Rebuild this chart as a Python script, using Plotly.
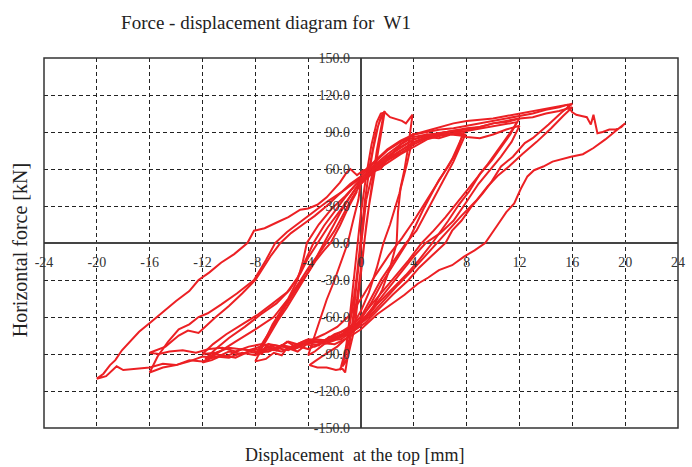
import plotly.graph_objects as go

# ---------------- data ----------------
x_tick_vals = [-24, -20, -16, -12, -8, -4, 0, 4, 8, 12, 16, 20, 24]
x_tick_text = ["-24", "-20", "-16", "-12", "-8", "-4", "0", "4", "8", "12", "16", "20", "24"]
y_tick_vals = [-150, -120, -90, -60, -30, 0, 30, 60, 90, 120, 150]
y_tick_text = ["-150.0", "-120.0", "-90.0", "-60.0", "-30.0", "0.0", "30.0", "60.0", "90.0", "120.0", "150.0"]

# initial small cycles (about +/-1.8 mm)
cycA_disp = [0, 0.2, 0.5, 0.9, 1.3, 1.6, 1.8, 1.7, 1.4, 1.0, 0.6, 0.3, 0.0, -0.3, -0.7, -1.1, -1.4, -1.6,
             -1.5, -1.2, -0.9, -0.6, -0.3, 0.0, 0.3, 0.7, 1.1, 1.5, 1.75, 1.6, 1.2, 0.8, 0.4, 0.1, -0.2,
             -0.5, -0.9, -1.2, -1.4, -1.2, -0.9, -0.6, -0.3, 0.0]
cycA_force = [0, 25, 50, 75, 95, 104, 107, 100, 80, 55, 30, 5, -20, -45, -70, -88, -98, -103,
              -100, -88, -70, -50, -25, 5, 35, 65, 88, 102, 106, 98, 75, 45, 15, -15, -45,
              -70, -88, -97, -100, -90, -65, -35, -5, 25]

# 4 mm cycles
cycB1_disp = [0.0, 0.4, 0.8, 1.2, 1.5, 1.8, 2.2, 2.7, 3.1, 3.4, 3.7, 3.9, 3.6, 3.3, 3.0, 2.8, 2.7, 2.2,
              1.6, 0.9, 0.0, -0.6, -1.2, -1.8, -2.4, -3.0, -3.5, -3.9, -3.3, -2.6, -1.9, -1.4, -1.2,
              -0.9, -0.6, -0.3, 0.0, 0.4]
cycB1_force = [25, 55, 80, 98, 105, 106, 102, 100, 99, 97, 101, 104, 80, 60, 45, 25, 0, -20,
               -38, -52, -64, -72, -78, -84, -88, -92, -96, -99, -101, -101, -103, -102, -105,
               -85, -60, -30, 0, 35]
cycB2_disp = [0.4, 0.9, 1.5, 2.0, 2.5, 3.0, 3.5, 4.0, 3.5, 2.9, 2.2, 1.7, 1.2, 0.6, 0.0, -0.6,
              -1.2, -2.0, -2.8, -3.5, -4.0, -3.6, -3.1, -2.6, -2.0, -1.5, -1.0, -0.6, -0.2, 0.0]
cycB2_force = [35, 58, 60, 68, 74, 80, 84, 89, 65, 40, 15, 0, -20, -40, -55, -66,
               -72, -79, -82, -88, -91, -78, -62, -46, -30, -15, 0, 18, 35, 50]

# 8 mm cycles
cycC1_disp = [0.0, 1.0, 2.0, 3.0, 4.0, 4.6, 5.0, 5.4, 5.8, 6.5, 7.2, 7.8, 7.6, 7.3, 6.6, 5.9, 4.7,
              3.6, 2.6, 1.6, 0.8, 0.0, -0.8, -1.6, -2.4, -3.2, -4.0, -4.8, -5.6, -6.0, -6.6, -7.2,
              -8.0, -7.5, -6.9, -6.3, -5.6, -5.0, -4.4, -3.8, -3.3, -2.8, -2.2, -1.5, -0.8, -0.3, 0.0]
cycC1_force = [52, 62, 70, 78, 84, 86, 88, 86, 89, 90, 91, 90, 85, 75, 62, 51, 27,
               2, -15, -32, -48, -62, -70, -77, -76, -83, -81, -88, -85, -91, -89, -94,
               -96, -85, -74, -63, -52, -42, -31, -20, -10, 0, 12, 26, 38, 46, 52]
cycC2_disp = [0.0, 1.0, 2.0, 3.0, 4.0, 5.0, 5.6, 6.4, 7.2, 7.9, 7.5, 7.0, 6.2, 5.2, 4.2, 3.4, 2.5,
              1.5, 0.6, 0.0, -1.0, -2.0, -3.0, -4.0, -5.0, -6.0, -7.0, -7.9, -7.4, -6.8, -6.1,
              -5.4, -4.7, -4.0, -3.4, -2.8, -2.3, -1.6, -1.0, -0.3]
cycC2_force = [50, 60, 67, 73, 80, 85, 87, 88, 89, 88, 78, 66, 50, 30, 10, 0, -14,
               -30, -48, -60, -70, -74, -81, -79, -86, -83, -88, -89, -80, -70, -58,
               -46, -34, -24, -14, -6, 0, 14, 28, 42]
cycC3_disp = [-0.3, 0.6, 1.4, 2.3, 3.2, 4.1, 5.0, 5.9, 6.8, 7.7, 7.4, 6.9, 6.1, 5.0, 4.0, 3.1,
              2.1, 1.1, 0.2, -0.8, -1.8, -2.8, -3.8, -4.8, -5.6, -6.4, -7.2, -7.8, -7.3, -6.7,
              -6.0, -5.3, -4.6, -3.9, -3.2, -2.6, -2.0, -1.4, -0.7, 0.0]
cycC3_force = [44, 56, 62, 70, 76, 82, 86, 85, 88, 87, 80, 68, 54, 35, 18, 4, -10,
               -26, -42, -58, -68, -74, -79, -85, -80, -87, -84, -91, -79, -66,
               -54, -42, -30, -19, -9, 0, 10, 22, 36, 48]

# 12 mm cycles
cycD1_disp = [0.0, 1.0, 2.0, 3.0, 4.0, 5.0, 6.0, 7.0, 8.0, 9.0, 10.0, 11.0, 12.0, 11.6, 11.0, 10.3,
              9.6, 9.0, 8.2, 7.4, 6.6, 5.4, 4.3, 3.4, 2.3, 1.2, 0.3, -0.5, -1.5, -2.5, -3.5, -4.5,
              -5.5, -6.5, -7.0, -7.5, -8.5, -9.5, -10.5, -11.3, -12.0, -11.0, -9.5, -8.0, -6.6,
              -5.5, -4.8, -4.4, -4.1, -3.2, -2.2, -1.2, -0.4, 0.0]
cycD1_force = [52, 63, 72, 80, 86, 88, 89, 91, 92, 94, 97, 99, 101, 94, 85, 74,
               64, 56, 42, 31, 18, 0, -15, -26, -38, -50, -62, -70, -78, -79, -84, -81,
               -87, -85, -82, -90, -88, -93, -91, -95, -97, -90, -80, -70, -60,
               -45, -30, -15, 0, 15, 28, 38, 47, 52]
cycD2_disp = [0.0, 1.0, 2.0, 3.0, 4.0, 5.0, 6.0, 7.0, 8.0, 9.0, 10.0, 11.0, 12.0, 11.4, 10.6, 9.8,
              8.9, 7.9, 7.0, 6.0, 4.9, 3.9, 2.7, 1.5, 0.5, -0.5, -1.5, -2.5, -4.0, -5.5, -7.0, -8.5,
              -10.0, -11.0, -12.0, -11.2, -10.2, -9.0, -7.8, -6.8, -5.6, -4.8, -4.2, -3.6, -2.8,
              -2.0, -1.2, -0.5, 0.0]
cycD2_force = [48, 58, 65, 72, 78, 84, 87, 89, 86, 85, 88, 92, 95, 82, 70, 60,
               48, 32, 18, 8, 0, -12, -28, -44, -58, -68, -74, -79, -78, -85, -82, -87,
               -85, -89, -90, -82, -74, -66, -58, -50, -40, -28, -14, 0, 14,
               26, 37, 46, 52]
cycD3_disp = [0.0, 1.0, 2.0, 3.0, 4.0, 5.0, 6.0, 7.0, 8.0, 9.0, 10.0, 11.0, 11.8, 11.3, 10.6, 9.9,
              9.1, 8.2, 7.3, 6.4, 5.5, 4.6, 3.6, 2.5, 1.4, 0.4, -0.6, -1.8, -3.0, -4.2, -5.4, -6.6,
              -7.8, -9.0, -10.2, -11.1, -11.8, -11.0, -10.0, -8.8, -7.6, -6.4, -5.4, -4.6, -4.0,
              -3.3, -2.5, -1.6, -0.8, 0.0]
cycD3_force = [50, 60, 68, 75, 82, 86, 88, 89, 91, 93, 95, 97, 98, 88, 77, 67,
               57, 45, 33, 21, 10, 0, -14, -28, -42, -55, -66, -74, -80, -79, -85, -83,
               -88, -86, -92, -90, -94, -86, -77, -68, -58, -49, -38, -25, -12,
               0, 13, 26, 38, 50]

# 16 mm cycles
cycE1_disp = [0.0, 1.0, 2.0, 3.0, 4.0, 5.0, 6.0, 7.0, 8.0, 9.0, 10.0, 11.0, 12.0, 13.0, 14.0, 15.0,
              15.6, 16.0, 15.2, 14.2, 13.0, 12.4, 11.5, 10.6, 9.9, 9.2, 8.4, 7.6, 6.9, 6.4, 5.4,
              4.4, 3.6, 2.4, 1.3, 0.3, -0.8, -2.0, -3.0, -4.0, -5.0, -6.0, -7.0, -8.0, -9.0, -10.0,
              -11.0, -12.0, -13.0, -14.0, -15.0, -16.0, -15.4, -14.6, -13.8, -13.0, -12.3, -11.6,
              -10.6, -9.4, -8.1, -7.2, -6.5, -5.6, -4.6, -3.5, -2.5, -1.5, -0.6, 0.0]
cycE1_force = [54, 65, 75, 82, 88, 90, 92, 93, 95, 97, 99, 101, 103, 105, 108, 110,
               112, 113, 106, 96, 85, 81, 70, 62, 50, 40, 30, 18, 10, 0, -10,
               -20, -30, -42, -54, -65, -73, -78, -81, -80, -85, -83, -88, -86, -90, -88,
               -93, -92, -96, -99, -101, -105, -92, -80, -70, -66, -60, -57,
               -50, -41, -30, -14, 0, 9, 17, 26, 34, 41, 48, 53]
cycE2_disp = [0.0, 1.0, 2.0, 3.0, 4.0, 5.0, 6.0, 7.0, 8.0, 9.0, 10.0, 11.0, 12.0, 13.0, 14.0, 15.0,
              16.0, 15.3, 14.4, 13.3, 12.2, 11.2, 10.4, 9.6, 8.7, 7.6, 6.6, 5.7, 4.7, 3.9, 2.8,
              1.6, 0.6, -0.5, -1.5, -2.5, -3.5, -4.5, -5.5, -6.5, -7.5, -8.5, -9.5, -10.5, -11.5,
              -12.5, -13.5, -14.5, -15.3, -16.0, -14.8, -13.8, -13.1, -12.3, -11.1, -10.0, -9.0,
              -8.0, -7.4, -6.8, -6.1, -5.3, -4.4, -3.5, -2.6, -1.6, -0.8, 0.0]
cycE2_force = [50, 60, 70, 77, 84, 87, 89, 91, 93, 94, 97, 98, 101, 102, 105, 107,
               110, 103, 93, 82, 72, 62, 55, 46, 34, 22, 10, 0, -12, -22, -34,
               -48, -60, -69, -75, -79, -78, -83, -80, -86, -82, -84, -88, -85, -86,
               -89, -87, -88, -90, -89, -84, -75, -71, -73, -61, -51, -41,
               -30, -20, -10, 0, 8, 15, 22, 30, 40, 48, 54]

# 20 mm cycle
cycF_disp = [0.0, 1.0, 2.0, 3.0, 4.0, 5.0, 6.0, 7.0, 8.0, 9.0, 10.0, 11.0, 12.0, 13.0, 14.0, 15.0,
             15.6, 16.0, 16.3, 16.7, 17.1, 17.4, 17.6, 17.9, 18.3, 18.8, 19.3, 19.7, 20.0, 19.3,
             18.5, 17.6, 16.8, 15.9, 15.2, 14.5, 13.8, 13.1, 12.6, 12.1, 11.6, 11.0, 10.3, 9.4,
             8.6, 7.8, 6.9, 5.9, 5.1, 4.3, 3.3, 2.2, 1.2, 0.0, -1.0, -2.0, -3.0, -4.0, -5.0, -6.0,
             -7.0, -8.0, -9.0, -10.0, -11.0, -12.0, -13.0, -14.0, -15.0, -16.0, -17.0, -18.0,
             -18.5, -18.9, -19.3, -20.0, -19.5, -19.0, -18.6, -18.1, -17.5, -16.8, -15.9, -15.0,
             -14.0, -13.0, -12.3, -11.5, -10.6, -9.6, -8.6, -8.1, -7.3, -6.3, -5.5, -4.6, -4.0,
             -3.3, -2.6, -1.6, -1.1, -0.8, -0.3, 0.2, 1.0]
cycF_force = [56, 66, 76, 83, 88, 91, 94, 97, 99, 100, 101, 103, 105, 107, 109, 111,
              112, 106, 104, 103, 102, 96, 104, 89, 90, 92, 92, 94, 97, 91,
              84, 77, 72, 70, 68, 66, 62, 59, 54, 44, 32, 25, 14, 0,
              -6, -11, -18, -22, -28, -33, -42, -50, -58, -70, -77, -82, -81, -86, -83, -88,
              -86, -91, -89, -93, -92, -96, -95, -99, -98, -101, -102, -103,
              -100, -104, -108, -110, -106, -99, -95, -87, -80, -72, -64, -56,
              -47, -39, -30, -24, -16, -9, 0, 10, 12, 17, 21, 27, 28,
              31, 37, 49, 57, 60, 55, 59, 62]

cycles = [
    (cycA_disp, cycA_force), (cycB1_disp, cycB1_force), (cycB2_disp, cycB2_force),
    (cycC1_disp, cycC1_force), (cycC2_disp, cycC2_force), (cycC3_disp, cycC3_force),
    (cycD1_disp, cycD1_force), (cycD2_disp, cycD2_force), (cycD3_disp, cycD3_force),
    (cycE1_disp, cycE1_force), (cycE2_disp, cycE2_force), (cycF_disp, cycF_force),
]

# ---------------- figure ----------------
RED = "rgb(236,32,36)"
SERIF = "Liberation Serif, Times New Roman, serif"

fig = go.Figure()
for d, f in cycles:
    fig.add_trace(go.Scatter(x=d, y=f, mode="lines", line=dict(color=RED, width=2),
                             showlegend=False, hoverinfo="skip"))

fig.update_layout(
    width=692, height=467, autosize=False,
    margin=dict(l=44, r=7, t=58, b=39),
    paper_bgcolor="white", plot_bgcolor="white",
    title=dict(text="Force - displacement diagram for\u00a0 W1", x=266 / 692, xanchor="center",
               xref="container", y=1 - 22 / 467, yanchor="middle", yref="container",
               font=dict(family=SERIF, size=19, color="#222")),
    xaxis=dict(range=[-24, 24], anchor="free", position=0.5, tickvals=x_tick_vals,
               ticktext=x_tick_text, ticks="", showline=False, showgrid=True,
               gridcolor="#222", griddash="4px,3px", gridwidth=1.2,
               zeroline=True, zerolinecolor="#444", zerolinewidth=1.5,
               ticklabelstandoff=9, tickfont=dict(family=SERIF, size=14, color="#333")),
    yaxis=dict(range=[-150, 150], anchor="free", position=0.5, tickvals=y_tick_vals,
               ticktext=y_tick_text, ticks="", showline=False, showgrid=True,
               gridcolor="#222", griddash="4px,3px", gridwidth=1.2,
               zeroline=True, zerolinecolor="#444", zerolinewidth=1.5,
               ticklabelstandoff=11, tickfont=dict(family=SERIF, size=14, color="#333")),
    shapes=[dict(type="rect", xref="paper", yref="paper", x0=0, x1=1, y0=0, y1=1,
                 line=dict(color="#333", width=1.5), layer="above")],
    annotations=[
        dict(text="Displacement\u00a0 at the top [mm]", xref="paper", yref="paper",
             x=(358 - 44) / 641, y=(428 - 455) / 370, xanchor="center", yanchor="middle",
             showarrow=False, font=dict(family=SERIF, size=18, color="#222")),
        dict(text="Horizontal force [kN]", xref="paper", yref="paper",
             x=(20 - 44) / 641, y=(428 - 250) / 370, xanchor="center", yanchor="middle",
             textangle=-90, showarrow=False, font=dict(family=SERIF, size=20, color="#222")),
    ],
)

fig.write_html("out.html", config={"displayModeBar": False},
               post_script="document.body.style.margin='0';document.body.style.overflow='hidden';")
